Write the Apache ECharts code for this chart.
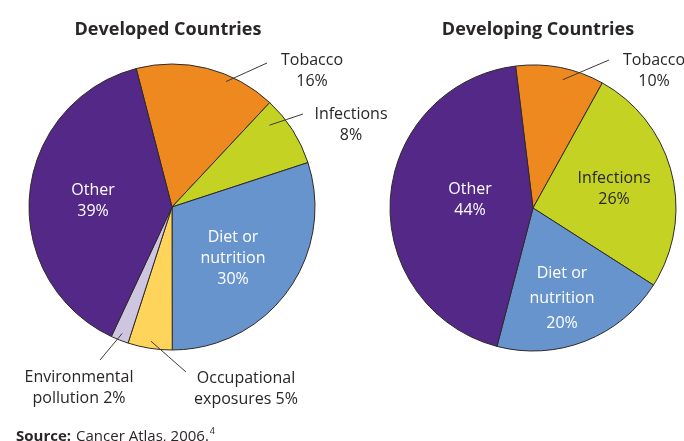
<!DOCTYPE html>
<html><head><meta charset="utf-8">
<script src="https://cdn.jsdelivr.net/npm/echarts@6/dist/echarts.min.js"></script>
<style>html,body{margin:0;padding:0;background:#fff}#c{width:684px;height:441px}</style>
</head><body><div id="c"></div>
<script>
// ---- data ----
const developedCategories = ['Tobacco', 'Infections', 'Diet or nutrition', 'Occupational exposures', 'Environmental pollution', 'Other'];
const developedValues = [16, 8, 30, 5, 2, 39];
const developingCategories = ['Tobacco', 'Infections', 'Diet or nutrition', 'Other'];
const developingValues = [10, 26, 20, 44];
const titles = ['Developed Countries', 'Developing Countries'];
// how each category name is broken into lines in the labels
const displayNames = {
  'Tobacco': 'Tobacco\n', 'Infections': 'Infections\n', 'Diet or nutrition': 'Diet or\nnutrition\n',
  'Occupational exposures': 'Occupational\nexposures ', 'Environmental pollution': 'Environmental\npollution ', 'Other': 'Other\n'
};

// ---- style ----
const FONT = '"Open Sans", "Noto Sans", sans-serif';
const TEXT = '#2a2627';
const colors = {
  'Tobacco': '#ee891f', 'Infections': '#c4d223', 'Diet or nutrition': '#6894ce',
  'Occupational exposures': '#fed55a', 'Environmental pollution': '#cec6e1', 'Other': '#542886'
};
const R = 143;
// pos: [labelX, labelY, lineEndX, lineEndY, lineHeight, anchorRotateDeg(clockwise), anchorRadiusFactor]
const pies = [
  { center: [172, 207], startAngle: 104.5,
    inside: ['Other', 'Diet or nutrition'],
    pos: { 'Tobacco': [312, 71, 267, 63, 21, 9, 0.955], 'Infections': [351, 125, 303, 114, 21, -7.5, 0.89],
           'Other': [93, 201], 'Diet or nutrition': [233, 258, null, null, 21],
           'Occupational exposures': [246, 389, 186, 372, 21, 0, 0.95], 'Environmental pollution': [79, 388, 100, 360, 21, 0, 0.95] } },
  { center: [533, 208], startAngle: 97,
    inside: ['Other', 'Diet or nutrition', 'Infections'],
    pos: { 'Tobacco': [654, 71, 609, 60, 21, 2, 0.92], 'Other': [470, 200], 'Infections': [614, 189],
           'Diet or nutrition': [562, 298, null, null, 25] } }
];
const whiteText = ['Other', 'Diet or nutrition'];

const baseLabel = { fontFamily: FONT, fontSize: 16, lineHeight: 21, color: TEXT,
                    formatter: p => displayNames[p.name] + p.value + '%' };

// visible slices with the inside labels
function makeSeries(cats, vals, pie) {
  return {
    type: 'pie', center: pie.center, radius: R, startAngle: pie.startAngle, clockwise: true,
    avoidLabelOverlap: false, silent: true, animation: false, z: 2,
    itemStyle: { borderColor: '#2e2a2b', borderWidth: 1 },
    label: Object.assign({ show: true, position: 'inside' }, baseLabel),
    labelLine: { show: false },
    data: cats.map((n, i) => {
      const inside = pie.inside.includes(n);
      const lp = pie.pos[n];
      return {
        name: n, value: vals[i], itemStyle: { color: colors[n] },
        label: inside ? { show: true, color: whiteText.includes(n) ? '#ffffff' : TEXT, lineHeight: lp[4] || 21 } : { show: false }
      };
    }),
    labelLayout: function (p) {
      const lp = pie.pos[cats[p.dataIndex]];
      return { x: lp[0], y: lp[1], align: 'center', verticalAlign: 'middle', hideOverlap: false };
    }
  };
}

// transparent overlay carrying the outside labels and their leader lines (drawn above the slices)
function makeOverlay(cats, vals, pie) {
  return {
    type: 'pie', center: pie.center, radius: R, startAngle: pie.startAngle, clockwise: true,
    avoidLabelOverlap: false, silent: true, animation: false, z: 5,
    itemStyle: { color: 'rgba(0,0,0,0)', borderWidth: 0 },
    label: Object.assign({ show: true, position: 'outside' }, baseLabel),
    labelLine: { show: true, length: 12, length2: 0, smooth: false, lineStyle: { color: '#3a3a3a', width: 1 } },
    data: cats.map((n, i) => {
      const inside = pie.inside.includes(n);
      return { name: n, value: vals[i], label: { show: !inside }, labelLine: { show: !inside } };
    }),
    labelLayout: function (p) {
      const lp = pie.pos[cats[p.dataIndex]];
      const out = { x: lp[0], y: lp[1], align: 'center', verticalAlign: 'middle', hideOverlap: false };
      if (lp[2] != null) {
        const cx = pie.center[0], cy = pie.center[1];
        let ang; // clockwise from 12 o'clock, radians
        if (p.labelLinePoints && p.labelLinePoints[0]) {
          const p0 = p.labelLinePoints[0];
          ang = Math.atan2(p0[0] - cx, -(p0[1] - cy));
        } else {
          const total = vals.reduce((s, v) => s + v, 0);
          let cum = 0; for (let k = 0; k < p.dataIndex; k++) cum += vals[k];
          ang = (90 - pie.startAngle + (cum + vals[p.dataIndex] / 2) / total * 360) * Math.PI / 180;
        }
        ang += (lp[5] || 0) * Math.PI / 180;
        const rr = (lp[6] || 0.93) * R;
        const a = [cx + rr * Math.sin(ang), cy - rr * Math.cos(ang)];
        const e = [lp[2], lp[3]];
        out.labelLinePoints = [a, [(a[0] + e[0]) / 2, (a[1] + e[1]) / 2], e];
      }
      return out;
    }
  };
}

const chart = echarts.init(document.getElementById('c'), null, { renderer: 'canvas' });
chart.setOption({
  backgroundColor: '#ffffff',
  animation: false,
  title: [
    { text: titles[0], left: 163, top: 13, textAlign: 'center',
      textStyle: { fontFamily: FONT, fontSize: 18, fontWeight: 'bold', color: TEXT, lineHeight: 24 } },
    { text: titles[1], left: 533, top: 13, textAlign: 'center',
      textStyle: { fontFamily: FONT, fontSize: 18, fontWeight: 'bold', color: TEXT, lineHeight: 24 } },
    { text: '{b|Source:} {n|Cancer Atlas, 2006.}{s|4}', left: 11, top: 422,
      textStyle: { fontWeight: 'normal', rich: {
        b: { fontFamily: FONT, fontSize: 15, fontWeight: 'bold', color: TEXT, lineHeight: 20 },
        n: { fontFamily: FONT, fontSize: 15, fontWeight: 'normal', color: TEXT, lineHeight: 20 },
        s: { fontFamily: FONT, fontSize: 9, fontWeight: 'normal', color: TEXT, verticalAlign: 'top', lineHeight: 20, padding: [0, 0, 0, 1] }
      } } }
  ],
  series: [
    makeSeries(developedCategories, developedValues, pies[0]),
    makeSeries(developingCategories, developingValues, pies[1]),
    makeOverlay(developedCategories, developedValues, pies[0]),
    makeOverlay(developingCategories, developingValues, pies[1])
  ]
});
</script>
</body></html>
